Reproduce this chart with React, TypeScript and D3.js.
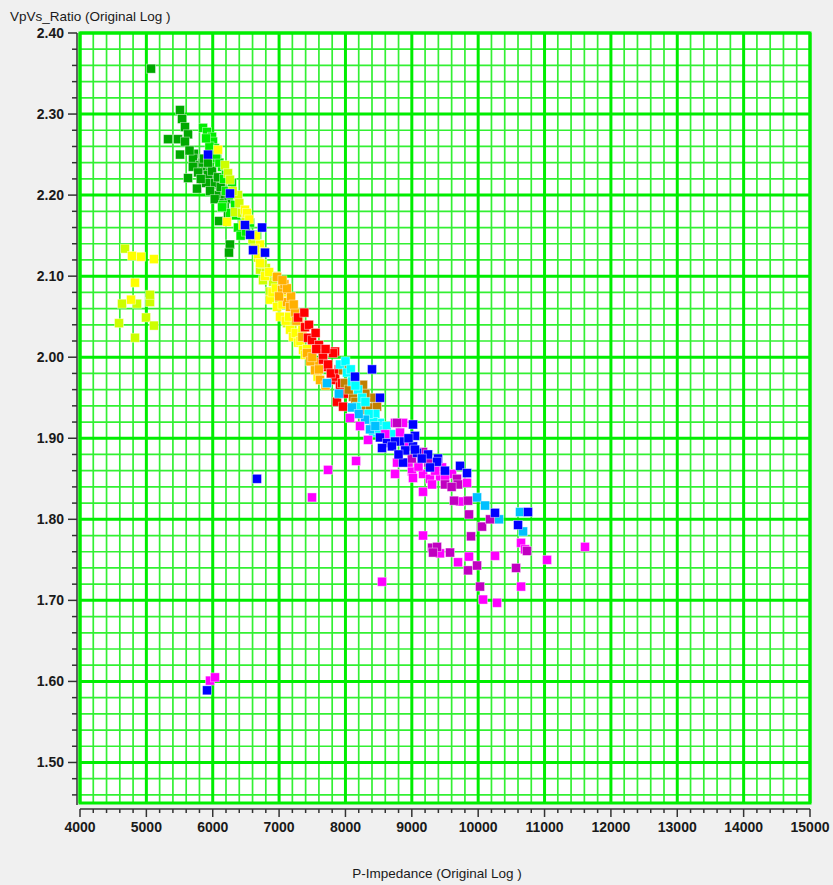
import React, { useEffect, useRef } from "react";
import * as d3 from "d3";

// crossplot values [P-Impedance, VpVs ratio], grouped by marker colour
const darkGreenPts = [
  [5070, 2.356], [5507, 2.305], [5537, 2.294], [5582, 2.284], [5628, 2.275], [5326, 2.269],
  [5477, 2.269], [5582, 2.266], [5507, 2.25], [5718, 2.251], [5703, 2.245], [5808, 2.237],
  [5884, 2.232], [5959, 2.227], [5628, 2.221], [6004, 2.22], [5763, 2.208], [6065, 2.213],
  [6110, 2.205], [6185, 2.206], [6215, 2.203], [6140, 2.2], [6095, 2.168], [6260, 2.139],
  [6245, 2.129], [5850, 2.24], [5930, 2.225], [6020, 2.215], [6050, 2.2], [6160, 2.19],
  [5990, 2.23], [6080, 2.222], [6240, 2.195], [5650, 2.255], [5700, 2.235], [5780, 2.228],
  [5900, 2.215], [5960, 2.205], [6030, 2.195], [6120, 2.21], [5820, 2.22], [6180, 2.185],
  [6230, 2.175], [5870, 2.245], [5930, 2.24],
];
const greenPts = [
  [5854, 2.283], [5914, 2.278], [5989, 2.272], [6004, 2.266], [6034, 2.258], [5989, 2.252],
  [6065, 2.246], [6140, 2.235], [6200, 2.225], [6290, 2.215], [6155, 2.188], [6336, 2.188],
  [6441, 2.166], [6562, 2.166], [6667, 2.151], [6260, 2.178], [6380, 2.16], [5950, 2.26],
  [6100, 2.24], [6140, 2.185], [6200, 2.205], [6280, 2.2], [6350, 2.175], [6420, 2.15],
  [6500, 2.155], [6050, 2.25], [6170, 2.22], [5900, 2.27], [6620, 2.14],
];
const yellowGreenPts = [
  [6185, 2.237], [6230, 2.227], [6260, 2.219], [6381, 2.2], [6336, 2.179], [6441, 2.178],
  [6682, 2.123], [6713, 2.108], [6758, 2.095], [6909, 2.093], [6863, 2.081], [7119, 2.042],
  [6300, 2.205], [6400, 2.19], [6500, 2.17], [6600, 2.145], [6800, 2.11], [6950, 2.1],
  [7000, 2.07], [6750, 2.115], [7200, 2.04],
  [4678, 2.134], [4588, 2.042], [4995, 2.049], [5115, 2.039], [4829, 2.024], [5055, 2.068],
  [5055, 2.077], [4633, 2.066], [4859, 2.066],
];
const yellowPts = [
  [4784, 2.125], [4919, 2.124], [5115, 2.121], [4829, 2.092], [4769, 2.071],
  [6080, 2.256], [6215, 2.167], [6486, 2.182], [6517, 2.178], [6456, 2.163], [6713, 2.139],
  [6682, 2.127], [6637, 2.134], [6713, 2.116], [6863, 2.071], [6969, 2.062], [7014, 2.05],
  [7165, 2.034], [7210, 2.025], [7285, 2.018], [7361, 2.009], [7391, 2.003], [6788, 2.1],
  [6900, 2.08], [7050, 2.065], [7100, 2.045], [7250, 2.03], [7580, 1.976], [6550, 2.17],
  [6650, 2.15], [6850, 2.105], [6950, 2.085], [7050, 2.08], [7150, 2.05], [7320, 2.02],
  [7420, 2.01], [7480, 1.995], [6780, 2.13], [7350, 2.035],
];
const orangePts = [
  [6969, 2.099], [7044, 2.083], [7119, 2.068], [7165, 2.062], [7240, 2.055], [7421, 2.005],
  [7572, 1.994], [7541, 1.984], [7617, 1.972], [7080, 2.09], [7180, 2.075], [7000, 2.075],
  [7300, 2.045], [7470, 1.995], [7120, 2.085], [7220, 2.065], [7260, 2.045], [7350, 2.025],
  [7500, 2.0], [7600, 1.985], [7700, 1.965], [7050, 2.095],
];
const redPts = [
  [7285, 2.049], [7391, 2.037], [7436, 2.024], [7496, 2.021], [7662, 1.997], [7737, 1.988],
  [7843, 1.972], [7918, 1.964], [7843, 2.007], [7662, 2.003], [7813, 2.005], [7737, 1.991],
  [7843, 1.976], [7948, 1.968], [7873, 1.945], [7964, 1.939], [7380, 2.055], [7450, 2.04],
  [7550, 2.03], [7600, 2.015], [7700, 2.01], [7780, 1.98], [7900, 1.985], [7980, 1.955],
  [7560, 2.01],
];
const brownPts = [
  [7964, 1.984], [8265, 1.966], [8114, 1.951], [8250, 1.935], [8370, 1.938], [8476, 1.939],
  [7990, 1.968], [8050, 1.96], [8150, 1.945], [8400, 1.95], [8300, 1.955],
];
const cyanPts = [
  [7918, 1.991], [8024, 1.981], [8190, 1.96], [8175, 1.939], [8370, 1.925], [8521, 1.919],
  [8596, 1.902], [8416, 1.907], [8100, 1.97], [8250, 1.95], [8450, 1.93], [8000, 1.995],
  [8080, 1.985], [8150, 1.965], [8300, 1.945], [8420, 1.92], [8500, 1.91], [8350, 1.93],
  [8620, 1.915], [8700, 1.905],
];
const lightBluePts = [
  [7722, 1.968], [8099, 1.938], [8295, 1.923], [8370, 1.911], [9983, 1.827], [10104, 1.817],
  [10315, 1.8], [10631, 1.809], [10676, 1.785], [7900, 1.955], [8200, 1.93], [8450, 1.915],
];
const bluePts = [
  [8144, 1.976], [8521, 1.95], [9018, 1.917], [8521, 1.901], [8627, 1.894], [8822, 1.896],
  [9018, 1.89], [9048, 1.903], [9078, 1.882], [9395, 1.875], [8747, 1.896], [8551, 1.888],
  [8868, 1.87], [9048, 1.886], [9244, 1.88], [9380, 1.871], [9274, 1.864], [9727, 1.866],
  [9832, 1.857], [10254, 1.808], [10601, 1.793], [10751, 1.809], [8400, 1.985], [8700, 1.89],
  [8900, 1.885], [9150, 1.875], [8950, 1.9], [9500, 1.86], [8800, 1.88],
  [5929, 2.25], [6260, 2.202], [6486, 2.163], [6562, 2.151], [6743, 2.16], [6607, 2.132],
  [6788, 2.129], [6667, 1.85], [5914, 1.589],
];
const magentaPts = [
  [8747, 1.919], [8868, 1.919], [8822, 1.907], [8777, 1.87], [8747, 1.856], [9003, 1.859],
  [9018, 1.851], [9169, 1.856], [9274, 1.85], [9455, 1.864], [9425, 1.853], [9606, 1.856],
  [9169, 1.834], [9305, 1.843], [9727, 1.822], [9832, 1.845], [9169, 1.78], [9425, 1.758],
  [9696, 1.747], [9862, 1.754], [10254, 1.755], [10073, 1.701], [10284, 1.697], [10646, 1.771],
  [10706, 1.763], [11038, 1.75], [11610, 1.766], [10646, 1.717], [8551, 1.723],
  [8069, 1.925], [8220, 1.915], [8340, 1.898], [8943, 1.89], [8600, 1.905], [8950, 1.87],
  [9100, 1.865], [9350, 1.86], [9500, 1.85],
  [7737, 1.861], [7496, 1.827], [8160, 1.872], [5959, 1.601], [6034, 1.605],
];
const purplePts = [
  [8777, 1.919], [9169, 1.883], [9500, 1.843], [9681, 1.85], [9696, 1.843], [9636, 1.823],
  [9847, 1.823], [9862, 1.806], [10058, 1.791], [10179, 1.8], [9892, 1.779], [9305, 1.765],
  [9380, 1.766], [9320, 1.759], [9576, 1.759], [9983, 1.743], [9847, 1.737], [10028, 1.717],
  [10571, 1.74], [10736, 1.761], [9000, 1.875], [9250, 1.87], [9600, 1.84],
];

const series = [
  { pts: darkGreenPts, color: "#00a800" },
  { pts: greenPts, color: "#00ee00" },
  { pts: yellowGreenPts, color: "#ccff00" },
  { pts: yellowPts, color: "#ffff00" },
  { pts: orangePts, color: "#ffb000" },
  { pts: redPts, color: "#ff0000" },
  { pts: brownPts, color: "#c08000" },
  { pts: cyanPts, color: "#00ffff" },
  { pts: lightBluePts, color: "#00c0ff" },
  { pts: magentaPts, color: "#ff00ff" },
  { pts: purplePts, color: "#c000c0" },
  { pts: bluePts, color: "#0000ff" },
];

const xDomain = [4000, 15000];
const yDomain = [1.45, 2.4];
const xTickValues = d3.range(4000, 15001, 1000);
const yTickValues = [1.5, 1.6, 1.7, 1.8, 1.9, 2.0, 2.1, 2.2, 2.3, 2.4];

const App = () => {
  const ref = useRef(null);

  useEffect(() => {
    document.body.style.margin = "0";
    document.body.style.background = "#f0f0f0";

    const W = 833;
    const H = 885;
    const left = 80, right = 810, top = 33, bottom = 803;

    const svg = d3.select(ref.current).attr("width", W).attr("height", H);
    svg.selectAll("*").remove();

    svg.append("rect").attr("width", W).attr("height", H).attr("fill", "#f0f0f0");

    const x = d3.scaleLinear().domain(xDomain).range([left, right]);
    const y = d3.scaleLinear().domain(yDomain).range([bottom, top]);

    svg.append("rect")
      .attr("x", left).attr("y", top)
      .attr("width", right - left).attr("height", bottom - top)
      .attr("fill", "#ffffff");

    // grid: minor every 200 / 0.02, major every 1000 / 0.1
    const minorX = d3.range(4000, 15001, 200).filter((v) => v % 1000 !== 0);
    const minorY = d3.range(0, 48).map((i) => 1.46 + i * 0.02)
      .filter((v) => Math.abs(v * 10 - Math.round(v * 10)) > 0.01 && v < 2.4);

    const grid = svg.append("g");
    grid.selectAll(".mx").data(minorX).enter().append("line")
      .attr("x1", (d) => x(d)).attr("x2", (d) => x(d))
      .attr("y1", top).attr("y2", bottom)
      .attr("stroke", "#33f033").attr("stroke-width", 1.7);
    grid.selectAll(".my").data(minorY).enter().append("line")
      .attr("x1", left).attr("x2", right)
      .attr("y1", (d) => y(d)).attr("y2", (d) => y(d))
      .attr("stroke", "#33f033").attr("stroke-width", 1.7);
    grid.selectAll(".Mx").data(xTickValues).enter().append("line")
      .attr("x1", (d) => x(d)).attr("x2", (d) => x(d))
      .attr("y1", top).attr("y2", bottom)
      .attr("stroke", "#00ee00").attr("stroke-width", 3);
    grid.selectAll(".My").data(yTickValues).enter().append("line")
      .attr("x1", left).attr("x2", right)
      .attr("y1", (d) => y(d)).attr("y2", (d) => y(d))
      .attr("stroke", "#00ee00").attr("stroke-width", 3);

    svg.append("rect")
      .attr("x", left).attr("y", top)
      .attr("width", right - left).attr("height", bottom - top)
      .attr("fill", "none").attr("stroke", "#00ee00").attr("stroke-width", 3);

    // points
    const s = 9;
    series.forEach((ser) => {
      svg.append("g").selectAll("rect").data(ser.pts).enter().append("rect")
        .attr("x", (d) => x(d[0]) - s / 2)
        .attr("y", (d) => y(d[1]) - s / 2)
        .attr("width", s).attr("height", s)
        .attr("fill", ser.color)
        .attr("stroke", "#ffffff").attr("stroke-opacity", 0.5).attr("stroke-width", 0.8);
    });

    // axes
    const font = "'Liberation Sans', Arial, sans-serif";
    const axisColor = "#333333";

    const yAxis = svg.append("g");
    yAxis.append("line")
      .attr("x1", left - 3).attr("x2", left - 3)
      .attr("y1", top).attr("y2", bottom + 2)
      .attr("stroke", axisColor).attr("stroke-width", 1.5);
    yAxis.selectAll(".ymin").data(minorY).enter().append("line")
      .attr("x1", left - 8).attr("x2", left - 3)
      .attr("y1", (d) => y(d)).attr("y2", (d) => y(d))
      .attr("stroke", axisColor).attr("stroke-width", 1.5);
    yAxis.selectAll(".ymaj").data(yTickValues).enter().append("line")
      .attr("x1", left - 12).attr("x2", left - 3)
      .attr("y1", (d) => y(d)).attr("y2", (d) => y(d))
      .attr("stroke", axisColor).attr("stroke-width", 1.5);
    yAxis.selectAll("text").data(yTickValues).enter().append("text")
      .attr("x", left - 16).attr("y", (d) => y(d) + 5)
      .attr("text-anchor", "end")
      .attr("font-family", font).attr("font-size", 14).attr("font-weight", "bold")
      .attr("fill", "#1a1a1a")
      .text((d) => d3.format(".2f")(d));

    const xAxisY = bottom + 6;
    const xAxis = svg.append("g");
    xAxis.append("line")
      .attr("x1", left).attr("x2", right)
      .attr("y1", xAxisY).attr("y2", xAxisY)
      .attr("stroke", axisColor).attr("stroke-width", 1.5);
    xAxis.selectAll(".xmin").data(minorX).enter().append("line")
      .attr("x1", (d) => x(d)).attr("x2", (d) => x(d))
      .attr("y1", xAxisY).attr("y2", xAxisY + 4)
      .attr("stroke", axisColor).attr("stroke-width", 1.5);
    xAxis.selectAll(".xmaj").data(xTickValues).enter().append("line")
      .attr("x1", (d) => x(d)).attr("x2", (d) => x(d))
      .attr("y1", xAxisY).attr("y2", xAxisY + 8)
      .attr("stroke", axisColor).attr("stroke-width", 1.5);
    xAxis.selectAll("text").data(xTickValues).enter().append("text")
      .attr("x", (d) => x(d)).attr("y", xAxisY + 23)
      .attr("text-anchor", "middle")
      .attr("font-family", font).attr("font-size", 14).attr("font-weight", "bold")
      .attr("fill", "#1a1a1a")
      .text((d) => String(d));

    // titles
    svg.append("text")
      .attr("x", 10).attr("y", 21)
      .attr("font-family", font).attr("font-size", 13.5).attr("fill", "#1a1a1a")
      .text("VpVs_Ratio (Original Log )");
    svg.append("text")
      .attr("x", 437).attr("y", 878)
      .attr("text-anchor", "middle")
      .attr("font-family", font).attr("font-size", 13.5).attr("fill", "#1a1a1a")
      .text("P-Impedance (Original Log )");
  }, []);

  return <svg ref={ref} style={{ display: "block" }}></svg>;
};

export default App;
